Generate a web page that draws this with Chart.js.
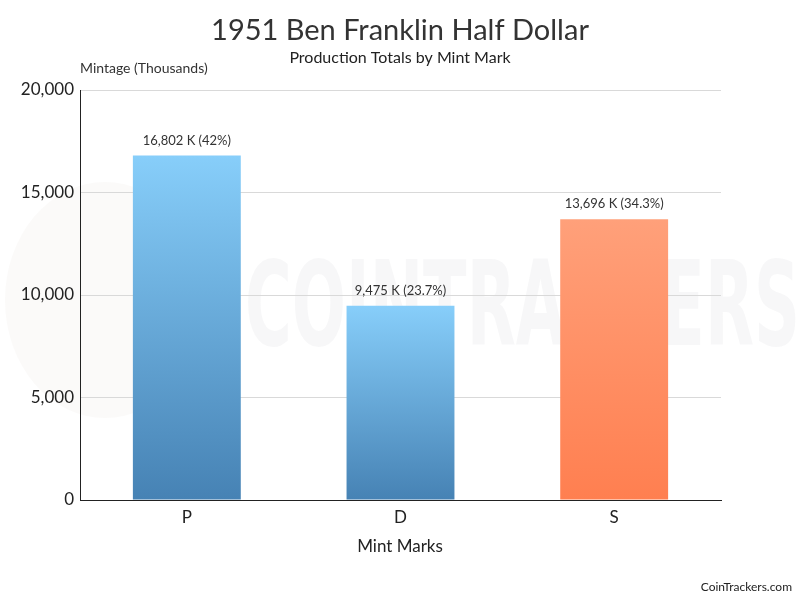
<!DOCTYPE html>
<html>
<head>
<meta charset="utf-8">
<script src="https://cdn.jsdelivr.net/npm/chart.js@4/dist/chart.umd.min.js"></script>
<style>
  html, body { margin: 0; padding: 0; background: #fff; }
  #wrap { width: 800px; height: 600px; position: relative; }
</style>
</head>
<body>
<div id="wrap"><canvas id="chart"></canvas></div>
<script>
const mintMarks = ['P', 'D', 'S'];
const mintage = [16802, 9475, 13696];
const shareLabels = ['16,802 K (42%)', '9,475 K (23.7%)', '13,696 K (34.3%)'];
const yTicks = [0, 5000, 10000, 15000, 20000];

const titleText = '1951 Ben Franklin Half Dollar';
const subtitleText = 'Production Totals by Mint Mark';
const yAxisLabel = 'Mintage (Thousands)';
const xAxisLabel = 'Mint Marks';
const creditText = 'CoinTrackers.com';

const FONT = 'Lato, "Open Sans", sans-serif';

function barGradient(context) {
  const chart = context.chart;
  const i = context.dataIndex;
  const isS = mintMarks[i] === 'S';
  const yScale = chart.scales.y;
  if (!yScale || !chart.chartArea) return isS ? '#ff8c5a' : '#5b9bd0';
  const top = yScale.getPixelForValue(mintage[i]);
  const bottom = yScale.getPixelForValue(0);
  if (!isFinite(top) || !isFinite(bottom) || top === bottom) return isS ? '#ff8c5a' : '#5b9bd0';
  const g = chart.ctx.createLinearGradient(0, top, 0, bottom);
  if (isS) {
    g.addColorStop(0, 'rgb(255, 160, 122)');
    g.addColorStop(1, 'rgb(255, 127, 80)');
  } else {
    g.addColorStop(0, 'rgb(135, 206, 250)');
    g.addColorStop(1, 'rgb(70, 130, 180)');
  }
  return g;
}

const watermark = {
  id: 'watermark',
  beforeDraw(chart) {
    const ctx = chart.ctx;
    ctx.save();
    // faint logo circle
    ctx.fillStyle = 'rgba(150, 130, 110, 0.04)';
    ctx.beginPath();
    ctx.ellipse(105, 300, 100, 118, 0, 0, Math.PI * 2);
    ctx.fill();
    // faint brand text
    ctx.fillStyle = 'rgba(120, 125, 135, 0.06)';
    ctx.font = 'bold 118px "DejaVu Sans Condensed", "DejaVu Sans", sans-serif';
    ctx.textBaseline = 'alphabetic';
    const w = ctx.measureText('COINTRACKERS').width;
    ctx.translate(245, 345);
    ctx.scale(555 / w, 1);
    ctx.fillText('COINTRACKERS', 0, 0);
    ctx.restore();
  }
};

const texts = {
  id: 'texts',
  afterDraw(chart) {
    const ctx = chart.ctx;
    ctx.save();
    ctx.textBaseline = 'middle';
    ctx.textAlign = 'center';
    ctx.fillStyle = '#333';
    ctx.font = '29px ' + FONT;
    ctx.fillText(titleText, 400, 31);
    ctx.fillStyle = '#222';
    ctx.font = '16px ' + FONT;
    ctx.fillText(subtitleText, 400, 58);
    ctx.textAlign = 'left';
    ctx.font = '14px ' + FONT;
    ctx.fillStyle = '#333';
    ctx.fillText(yAxisLabel, 80, 68);
    ctx.textAlign = 'center';
    ctx.font = '17px ' + FONT;
    ctx.fillStyle = '#222';
    ctx.fillText(xAxisLabel, 400, 547);
    ctx.textAlign = 'right';
    ctx.font = '12px ' + FONT;
    ctx.fillStyle = '#222';
    ctx.fillText(creditText, 792, 587);

    // value labels above bars
    const meta = chart.getDatasetMeta(0);
    ctx.textAlign = 'center';
    ctx.textBaseline = 'alphabetic';
    ctx.font = '13px ' + FONT;
    ctx.fillStyle = '#333';
    meta.data.forEach((bar, i) => {
      ctx.fillText(shareLabels[i], bar.x, bar.y - 11);
    });
    ctx.restore();
  }
};

new Chart(document.getElementById('chart'), {
  type: 'bar',
  data: {
    labels: mintMarks,
    datasets: [{
      label: 'Mintage',
      data: mintage,
      backgroundColor: barGradient,
      borderWidth: 0,
      barPercentage: 1,
      categoryPercentage: 0.505
    }]
  },
  options: {
    responsive: true,
    maintainAspectRatio: false,
    animation: false,
    layout: { padding: { top: 90, right: 79, bottom: 0, left: 0 } },
    plugins: {
      legend: { display: false },
      tooltip: { enabled: false },
      title: { display: false }
    },
    scales: {
      x: {
        grid: { display: false, drawTicks: false },
        border: { color: '#222', width: 1 },
        ticks: { color: '#222', font: { family: FONT, size: 17 }, padding: 7 },
        afterFit(scale) { scale.height = 100; }
      },
      y: {
        min: 0,
        max: 20000,
        afterBuildTicks(scale) { scale.ticks = yTicks.map(v => ({ value: v })); },
        grid: { color: '#d9d9d9', drawTicks: false },
        border: { color: '#222', width: 1 },
        ticks: {
          color: '#222',
          font: { family: FONT, size: 17 },
          padding: 6,
          callback: v => v.toLocaleString('en-US')
        },
        afterFit(scale) { scale.width = 80; }
      }
    }
  },
  plugins: [watermark, texts]
});
</script>
</body>
</html>
